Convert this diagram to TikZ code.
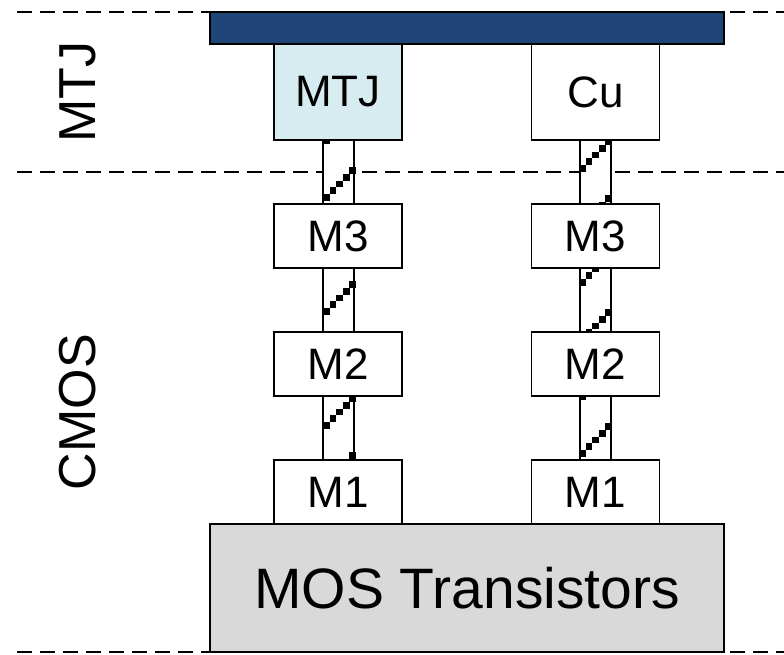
\documentclass[tikz,border=0pt]{standalone}
\usepackage{fontspec}
\setmainfont{Liberation Sans}
\definecolor{barblue}{RGB}{31,68,120}
\definecolor{mtjfill}{RGB}{214,236,240}
\definecolor{mosfill}{RGB}{217,217,217}
\newcommand\viahatch[4]{%
  \begin{scope}
    \clip (#1,#2) rectangle (#1+33,#3);
    \foreach \yy in {#4}{\foreach \i in {0,...,4}{\fill[black] (#1+6.6*\i,\yy-6.8*\i) rectangle ++(6.8,-6.8);}}
  \end{scope}}
\begin{document}
\begin{tikzpicture}[x=1pt,y=-1pt,
  box/.style={draw=black,line width=1.5pt,fill=white,inner sep=0pt,minimum width=128pt,minimum height=64pt,font=\fontsize{44}{50}\selectfont},
  via/.style={draw=black,line width=1.5pt,inner sep=0pt,minimum width=31pt,minimum height=64pt},
  sep/.style={line width=1.2pt,dash pattern=on 15pt off 8pt},
  side/.style={rotate=90,font=\fontsize{52}{60}\selectfont}]
\useasboundingbox (0,0) rectangle (784,654);
% separators
\draw[sep] (17,12) -- (784,12);
\draw[sep] (17,172) -- (784,172);
\draw[sep] (17,652) -- (784,652);
% side labels
\node[side] (lmtj) at (78,92) {MTJ};
\node[side] (lcmos) at (78,412) {CMOS};
% vias: fill white
\foreach \vx/\vy/\nm in {338.5/172/va1,338.5/300/va2,338.5/428/va3,595.5/172/vb1,595.5/300/vb2,595.5/428/vb3}
  \node[via,fill=white,draw=none] (\nm bg) at (\vx,\vy) {};
\viahatch{323}{140}{204}{144,201}
\viahatch{323}{268}{332}{315}
\viahatch{323}{396}{460}{429,486}
\viahatch{579}{140}{204}{172,229}
\viahatch{579}{268}{332}{286,343}
\viahatch{579}{396}{460}{400,457}
\foreach \vx/\vy/\nm in {338.5/172/va1,338.5/300/va2,338.5/428/va3,595.5/172/vb1,595.5/300/vb2,595.5/428/vb3}
  \node[via] (\nm) at (\vx,\vy) {};
% top bar
\node[draw=black,line width=1.5pt,fill=barblue,inner sep=0pt,minimum width=514pt,minimum height=32pt] (bar) at (467,28) {};
% boxes
\node[box,fill=mtjfill,minimum height=96pt] (mtj) at (338,92) {MTJ};
\node[box,minimum height=96pt] (cu) at (595.5,92) {Cu};
\node[box] (m3a) at (338,236) {M3};
\node[box] (m3b) at (595.5,236) {M3};
\node[box] (m2a) at (338,364) {M2};
\node[box] (m2b) at (595.5,364) {M2};
\node[box] (m1a) at (338,492) {M1};
\node[box] (m1b) at (595.5,492) {M1};
\node[draw=black,line width=1.5pt,fill=mosfill,inner sep=0pt,minimum width=514pt,minimum height=128pt,font=\fontsize{57}{64}\selectfont] (mos) at (467,588) {MOS Transistors};
\end{tikzpicture}
\end{document}
